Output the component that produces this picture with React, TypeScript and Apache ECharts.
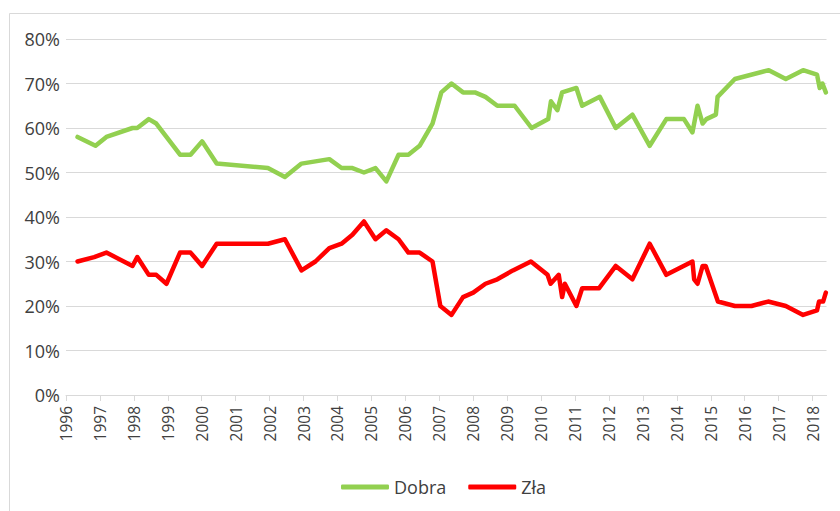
import React, { useEffect, useRef } from "react";
import * as echarts from "echarts";

const years = [1996, 1997, 1998, 1999, 2000, 2001, 2002, 2003, 2004, 2005, 2006, 2007, 2008, 2009, 2010, 2011, 2012, 2013, 2014, 2015, 2016, 2017, 2018];
const yTicks = [0, 10, 20, 30, 40, 50, 60, 70, 80];

const dobraDates = [1996.34, 1996.87, 1997.19, 1997.96, 1998.1, 1998.44, 1998.66, 1998.96, 1999.36, 1999.67, 2000.01, 2000.44, 2001.95, 2002.45, 2002.94, 2003.76, 2004.12, 2004.44, 2004.78, 2005.12, 2005.44, 2005.8, 2006.09, 2006.42, 2006.8, 2007.06, 2007.36, 2007.7, 2008.05, 2008.36, 2008.71, 2009.22, 2009.72, 2010.21, 2010.29, 2010.48, 2010.62, 2011.04, 2011.21, 2011.73, 2012.2, 2012.69, 2013.2, 2013.69, 2014.21, 2014.46, 2014.61, 2014.76, 2014.87, 2015.15, 2015.2, 2015.71, 2016.71, 2017.21, 2017.72, 2018.13, 2018.21, 2018.29, 2018.39];
const dobraValues = [58, 56, 58, 60, 60, 62, 61, 58, 54, 54, 57, 52, 51, 49, 52, 53, 51, 51, 50, 51, 48, 54, 54, 56, 61, 68, 70, 68, 68, 67, 65, 65, 60, 62, 66, 64, 68, 69, 65, 67, 60, 63, 56, 62, 62, 59, 65, 61, 62, 63, 67, 71, 73, 71, 73, 72, 69, 70, 68];

const zlaDates = [1996.34, 1996.83, 1997.19, 1997.96, 1998.1, 1998.44, 1998.66, 1998.96, 1999.36, 1999.67, 2000.01, 2000.44, 2001.95, 2002.45, 2002.94, 2003.35, 2003.76, 2004.12, 2004.44, 2004.78, 2005.12, 2005.44, 2005.8, 2006.09, 2006.42, 2006.8, 2007.03, 2007.36, 2007.7, 2008.0, 2008.36, 2008.71, 2009.17, 2009.7, 2010.19, 2010.28, 2010.52, 2010.62, 2010.7, 2011.04, 2011.21, 2011.71, 2012.2, 2012.69, 2013.2, 2013.69, 2014.46, 2014.51, 2014.61, 2014.76, 2014.85, 2015.21, 2015.71, 2016.2, 2016.69, 2017.21, 2017.72, 2018.13, 2018.19, 2018.31, 2018.39];
const zlaValues = [30, 31, 32, 29, 31, 27, 27, 25, 32, 32, 29, 34, 34, 35, 28, 30, 33, 34, 36, 39, 35, 37, 35, 32, 32, 30, 20, 18, 22, 23, 25, 26, 28, 30, 27, 25, 27, 22, 25, 20, 24, 24, 29, 26, 34, 27, 30, 26, 25, 29, 29, 21, 20, 20, 21, 20, 18, 19, 21, 21, 23];

const seriesNames = ["Dobra", "Zła"];
const colors = ["#92D050", "#FF0000"];

export default function App() {
  const ref = useRef<HTMLDivElement>(null);
  useEffect(() => {
    if (!ref.current) return;
    const chart = echarts.init(ref.current, null, { renderer: "svg" });
    const font = "'Open Sans', 'Noto Sans', sans-serif";
    chart.setOption({
      animation: false,
      textStyle: { fontFamily: font },
      graphic: [
        {
          type: "rect",
          shape: { x: 9.5, y: 13.5, width: 840, height: 520 },
          style: { fill: "none", stroke: "#d9d9d9", lineWidth: 1 },
          silent: true,
        },
      ],
      grid: { left: 66, right: 13.5, top: 39, bottom: 116, containLabel: false },
      legend: {
        left: 336,
        top: 473,
        icon: "roundRect",
        itemWidth: 48,
        itemHeight: 5,
        itemGap: 22,
        data: seriesNames,
        textStyle: { fontFamily: font, fontSize: 18, color: "#404040" },
      },
      xAxis: {
        type: "value",
        min: years[0],
        max: 2018.41,
        interval: 1,
        axisLine: { show: true, lineStyle: { color: "#d9d9d9", width: 1 } },
        axisTick: { show: true, length: 6, lineStyle: { color: "#d9d9d9" }, customValues: years },
        splitLine: { show: false },
        axisLabel: {
          customValues: years,
          rotate: 90,
          margin: 11,
          fontSize: 15.5,
          color: "#404040",
          fontFamily: font,
          formatter: (v: number) => String(Math.round(v)),
        },
      },
      yAxis: {
        type: "value",
        min: yTicks[0],
        max: yTicks[yTicks.length - 1],
        interval: 10,
        axisLine: { show: false },
        axisTick: { show: false },
        splitLine: { lineStyle: { color: "#d9d9d9", width: 1 } },
        axisLabel: {
          margin: 6,
          fontSize: 18,
          color: "#404040",
          fontFamily: font,
          formatter: (v: number) => v + "%",
        },
      },
      series: [
        {
          name: seriesNames[0],
          type: "line",
          data: dobraDates.map((d, i) => [d, dobraValues[i]]),
          showSymbol: false,
          symbol: "none",
          lineStyle: { color: colors[0], width: 4.5, join: "round", cap: "round" },
          itemStyle: { color: colors[0] },
        },
        {
          name: seriesNames[1],
          type: "line",
          data: zlaDates.map((d, i) => [d, zlaValues[i]]),
          showSymbol: false,
          symbol: "none",
          lineStyle: { color: colors[1], width: 4.5, join: "round", cap: "round" },
          itemStyle: { color: colors[1] },
        },
      ],
    });
    return () => chart.dispose();
  }, []);
  return (
    <div
      ref={ref}
      style={{ position: "fixed", left: 0, top: 0, width: 840, height: 511, background: "#fff" }}
    />
  );
}
